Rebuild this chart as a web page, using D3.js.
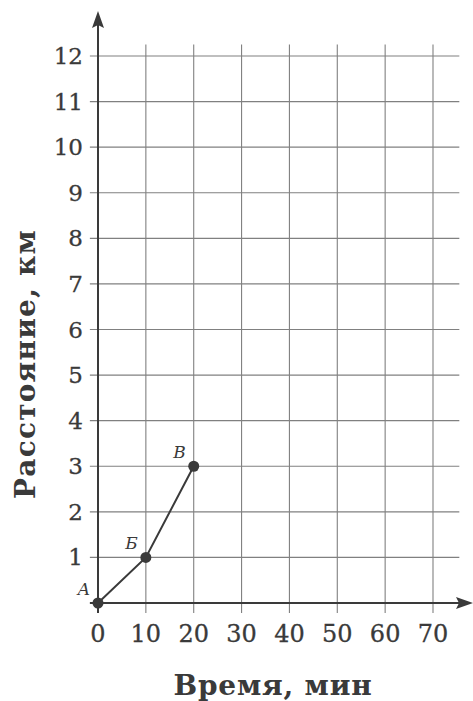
<!DOCTYPE html>
<html>
<head>
<meta charset="utf-8">
<script src="https://cdn.jsdelivr.net/npm/d3@7"></script>
<style>
  html, body { margin: 0; padding: 0; background: #fff; }
  svg { display: block; }
</style>
</head>
<body>
<svg id="chart" width="473" height="701"></svg>
<script>
// Distance over time: points A, Б, В
const times = [0, 10, 20];
const distances = [0, 1, 3];
const pointNames = ["A", "Б", "В"];
const xTicks = [0, 10, 20, 30, 40, 50, 60, 70];
const yTicks = [1, 2, 3, 4, 5, 6, 7, 8, 9, 10, 11, 12];
const xTitle = "Время, мин";
const yTitle = "Расстояние, км";

const svg = d3.select("#chart");
const ink = "#3a3a3a";
const gridColor = "#808080";
const serif = "'DejaVu Serif', serif";

const x = d3.scaleLinear().domain([0, 70]).range([98, 433]);
const y = d3.scaleLinear().domain([0, 12]).range([603, 56]);

// Grid extents go a little past the last ticks
const gridRight = x(75.5);
const gridTop = y(12.25);
const gridBottom = y(-0.22);
const tickLeft = x(-1.7);

const grid = svg.append("g").attr("stroke", gridColor).attr("stroke-width", 1.1);
grid.selectAll("line.h").data(yTicks).join("line")
  .attr("x1", tickLeft).attr("x2", gridRight)
  .attr("y1", d => y(d)).attr("y2", d => y(d));
grid.selectAll("line.v").data(xTicks.slice(1)).join("line")
  .attr("y1", gridTop).attr("y2", gridBottom)
  .attr("x1", d => x(d)).attr("x2", d => x(d));

// Axes with arrowheads
const axes = svg.append("g");
axes.append("line").attr("x1", x(0)).attr("x2", x(0))
  .attr("y1", gridBottom).attr("y2", 20)
  .attr("stroke", ink).attr("stroke-width", 2);
axes.append("line").attr("x1", tickLeft).attr("x2", 462)
  .attr("y1", y(0)).attr("y2", y(0))
  .attr("stroke", ink).attr("stroke-width", 2);
axes.append("path")
  .attr("d", `M${x(0)},11 L${x(0) - 6},28 L${x(0)},25 L${x(0) + 6},28 Z`)
  .attr("fill", ink);
axes.append("path")
  .attr("d", `M473,${y(0)} L456,${y(0) - 6} L459,${y(0)} L456,${y(0) + 6} Z`)
  .attr("fill", ink);

// Tick labels
svg.append("g").selectAll("text").data(yTicks).join("text")
  .attr("x", 83).attr("y", d => y(d) + 8)
  .attr("text-anchor", "end")
  .attr("font-family", serif).attr("font-size", 23).attr("fill", ink)
  .attr("stroke", ink).attr("stroke-width", 0.3)
  .text(d => d);
svg.append("g").selectAll("text").data(xTicks).join("text")
  .attr("x", d => x(d)).attr("y", 642)
  .attr("text-anchor", "middle")
  .attr("font-family", serif).attr("font-size", 24).attr("fill", ink)
  .attr("stroke", ink).attr("stroke-width", 0.3)
  .text(d => d);

// Axis titles
svg.append("text")
  .attr("transform", `translate(35,${364}) rotate(-90)`)
  .attr("text-anchor", "middle")
  .attr("font-family", serif).attr("font-weight", "bold")
  .attr("font-size", 28).attr("letter-spacing", 1.2).attr("fill", ink)
  .text(yTitle);
svg.append("text")
  .attr("x", 273).attr("y", 695)
  .attr("text-anchor", "middle")
  .attr("font-family", serif).attr("font-weight", "bold")
  .attr("font-size", 28).attr("letter-spacing", 0.8).attr("fill", ink)
  .text(xTitle);

// Data line and points
const pts = times.map((t, i) => ({ t, d: distances[i], name: pointNames[i] }));
svg.append("path")
  .datum(pts)
  .attr("d", d3.line().x(p => x(p.t)).y(p => y(p.d)))
  .attr("fill", "none").attr("stroke", ink).attr("stroke-width", 2);
svg.append("g").selectAll("circle").data(pts).join("circle")
  .attr("cx", p => x(p.t)).attr("cy", p => y(p.d)).attr("r", 5.5)
  .attr("fill", ink);
svg.append("g").selectAll("text").data(pts).join("text")
  .attr("x", p => x(p.t) - 8).attr("y", p => y(p.d) - 8)
  .attr("text-anchor", "end")
  .attr("font-family", serif).attr("font-style", "italic")
  .attr("font-size", 17).attr("fill", ink)
  .text(p => p.name);
</script>
</body>
</html>
